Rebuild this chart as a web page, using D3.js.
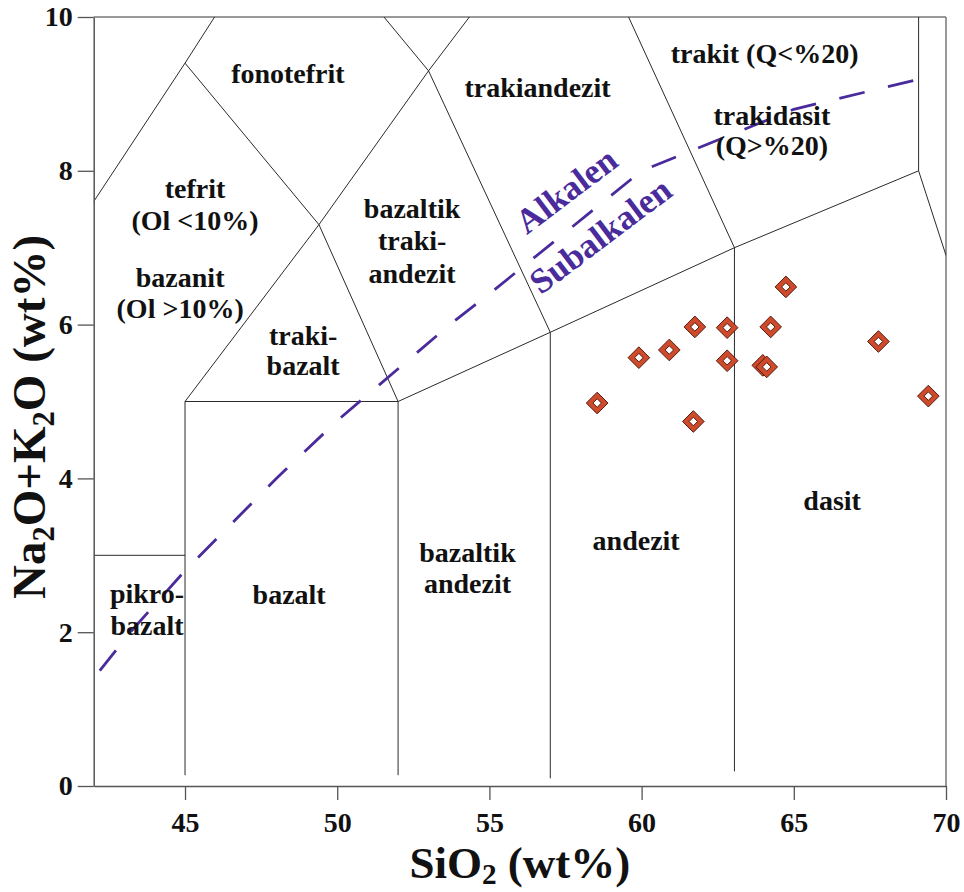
<!DOCTYPE html>
<html><head><meta charset="utf-8">
<script src="https://cdn.jsdelivr.net/npm/d3@7"></script>
<style>body{margin:0;background:#fff} svg{display:block} text{white-space:pre}</style>
</head><body><svg id="chart" width="964" height="892"></svg>
<script>
// ---- data ----
const xTicks = [45, 50, 55, 60, 65, 70];
const yTicks = [0, 2, 4, 6, 8, 10];

// sample analyses (SiO2, Na2O+K2O)
const sampleSiO2   = [58.54, 59.91, 60.91, 61.75, 62.81, 62.81, 61.70, 64.24, 64.74, 63.98, 64.11, 67.78, 69.42];
const sampleAlkali = [4.98, 5.57, 5.67, 5.97, 5.96, 5.53, 4.74, 5.97, 6.49, 5.47, 5.45, 5.78, 5.07];

// TAS field boundaries (SiO2, Na2O+K2O)
const boundaries = [
  [[42, 3], [45, 3]],
  [[45, 0.14], [45, 5], [52, 5], [52, 0.14]],
  [[52, 5], [57, 5.9], [63.05, 7], [69.1, 8], [70, 6.9]],
  [[57, 0.1], [57, 5.9]],
  [[63.05, 0.19], [63.05, 7]],
  [[45, 5], [49.4, 7.3], [52, 5]],
  [[49.4, 7.3], [53, 9.3], [57.6, 11.7]],
  [[53, 9.3], [57, 5.9]],
  [[57.6, 11.7], [63.05, 7]],
  [[69.1, 8], [69.1, 13]],
  [[41, 7], [45, 9.4], [48.4, 11.5]],
  [[45, 9.4], [49.4, 7.3]],
  [[53, 9.3], [48.4, 11.5]]
];

// alkaline / subalkaline divider (Irvine & Baragar)
const dividerSiO2   = [42.2, 43.2, 45, 48, 50, 53.7, 55, 60, 65, 69.1];
const dividerAlkali = [1.5, 2.0, 2.8, 4.0, 4.75, 6.0, 6.4, 8.0, 8.8, 9.19];

// field names
const fieldNames = ["fonotefrit", "tefrit", "(Ol <10%)", "bazanit", "(Ol >10%)", "traki-", "bazalt",
  "bazaltik", "traki-", "andezit", "trakiandezit", "trakit (Q<%20)", "trakidasit", "(Q>%20)",
  "pikro-", "bazalt", "bazalt", "bazaltik", "andezit", "andezit", "dasit"];
const fieldSiO2   = [48.38, 45.33, 45.33, 44.84, 44.84, 48.88, 48.88, 52.46, 52.46, 52.46, 56.58, 64.04, 64.28, 64.28,
  43.75, 43.75, 48.42, 54.28, 54.28, 59.82, 66.26];
const fieldAlkali = [9.14, 7.65, 7.23, 6.49, 6.09, 5.73, 5.34, 7.39, 6.97, 6.54, 8.96, 9.40, 8.60, 8.21,
  2.38, 1.96, 2.37, 2.91, 2.51, 3.07, 3.59];

const seriesNames  = ["Alkalen", "Subalkalen"];
const seriesSiO2   = [57.76, 58.88];
const seriesAlkali = [7.62, 7.035];

// ---- drawing ----
const svg = d3.select("#chart");
const L = 93.7, R = 946, T = 17, B = 786;
const x = d3.scaleLinear().domain([42, 70]).range([L, R]);
const y = d3.scaleLinear().domain([0, 10]).range([B, T]);
const serif = "'Liberation Serif','Times New Roman',Times,serif";
const purple = "#4a2b9c";

svg.append("defs").append("clipPath").attr("id", "plotClip")
  .append("rect").attr("x", L).attr("y", T).attr("width", R - L).attr("height", B - T);

// frame top/right
svg.append("line").attr("x1", L).attr("x2", R).attr("y1", T).attr("y2", T)
  .attr("stroke", "#777").attr("stroke-width", 1.5);
svg.append("line").attr("x1", R).attr("x2", R).attr("y1", T).attr("y2", B)
  .attr("stroke", "#777").attr("stroke-width", 1.5);

const plot = svg.append("g").attr("clip-path", "url(#plotClip)");
const line = d3.line().x(d => x(d[0])).y(d => y(d[1]));

plot.selectAll("path.bnd").data(boundaries).join("path")
  .attr("class", "bnd").attr("d", line)
  .attr("fill", "none").attr("stroke", "#2a2a2a").attr("stroke-width", 1);

const divider = dividerSiO2.map((v, i) => [v, dividerAlkali[i]]);
plot.append("path").datum(divider).attr("d", line)
  .attr("fill", "none").attr("stroke", purple).attr("stroke-width", 2.8)
  .attr("stroke-dasharray", "26,24");

// axes
const xAxis = svg.append("g").attr("transform", `translate(0,${B})`)
  .call(d3.axisBottom(x).tickValues(xTicks).tickSize(14).tickPadding(12).tickSizeOuter(0));
const yAxis = svg.append("g").attr("transform", `translate(${L},0)`)
  .call(d3.axisLeft(y).tickValues(yTicks).tickSize(16).tickPadding(5).tickSizeOuter(0));
[xAxis, yAxis].forEach(a => {
  a.select(".domain").attr("stroke", "#555").attr("stroke-width", 1.5);
  a.selectAll(".tick line").attr("stroke", "#555").attr("stroke-width", 1.3);
  a.selectAll(".tick text").attr("font-family", serif).attr("font-weight", "bold")
    .attr("font-size", 28).attr("fill", "#111");
});

// field labels
svg.selectAll("text.field").data(fieldNames).join("text")
  .attr("class", "field")
  .attr("x", (d, i) => x(fieldSiO2[i])).attr("y", (d, i) => y(fieldAlkali[i]))
  .attr("text-anchor", "middle").attr("font-family", serif).attr("font-weight", "bold")
  .attr("font-size", 28).attr("fill", "#111").text(d => d);

// series labels
svg.selectAll("text.series").data(seriesNames).join("text")
  .attr("class", "series")
  .attr("transform", (d, i) => `translate(${x(seriesSiO2[i])},${y(seriesAlkali[i])}) rotate(-37)`)
  .attr("text-anchor", "middle").attr("font-family", serif).attr("font-weight", "bold")
  .attr("font-size", 35).attr("fill", purple).text(d => d);

// samples
const samples = sampleSiO2.map((v, i) => [v, sampleAlkali[i]]);
const outer = d3.symbol(d3.symbolSquare, 235)();
const inner = d3.symbol(d3.symbolSquare, 36)();
const pts = svg.selectAll("g.pt").data(samples).join("g")
  .attr("class", "pt")
  .attr("transform", d => `translate(${x(d[0])},${y(d[1])}) rotate(45)`);
pts.append("path").attr("d", outer).attr("fill", "#cf4a2a").attr("stroke", "#4a170e").attr("stroke-width", 0.9);
pts.append("path").attr("d", inner).attr("fill", "#fff").attr("stroke", "#4a170e").attr("stroke-width", 0.9);

// axis titles
const xt = svg.append("text").attr("x", (L + R) / 2).attr("y", 878)
  .attr("text-anchor", "middle").attr("font-family", serif).attr("font-weight", "bold")
  .attr("font-size", 45).attr("fill", "#111");
xt.append("tspan").text("SiO");
xt.append("tspan").attr("font-size", "0.65em").attr("dy", "0.2em").text("2");
xt.append("tspan").attr("dy", "-0.13em").text(" (wt%)");

const yt = svg.append("text").attr("transform", "translate(45,417) rotate(-90)")
  .attr("text-anchor", "middle").attr("font-family", serif).attr("font-weight", "bold")
  .attr("font-size", 47).attr("fill", "#111");
yt.append("tspan").text("Na");
yt.append("tspan").attr("font-size", "0.65em").attr("dy", "0.3em").text("2");
yt.append("tspan").attr("dy", "-0.2em").text("O+K");
yt.append("tspan").attr("font-size", "0.65em").attr("dy", "0.3em").text("2");
yt.append("tspan").attr("dy", "-0.2em").text("O (wt%)");
</script></body></html>
